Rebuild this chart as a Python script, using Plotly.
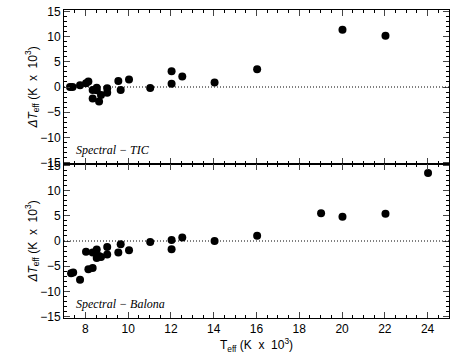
import plotly.graph_objects as go
from plotly.subplots import make_subplots

# Spectral - TIC  (Teff in K x 10^3, delta Teff in K x 10^3)
tic_teff = [7.28, 7.4, 7.75, 8.03, 8.14, 8.34, 8.34, 8.53, 8.53, 8.64, 8.73, 9.02, 9.02,
            9.54, 9.65, 10.04, 11.03, 12.03, 12.03, 12.53, 14.04, 16.03, 20.02, 22.03]
tic_dteff = [0.0, 0.0, 0.33, 0.73, 1.07, -0.6, -2.27, -0.13, -0.67, -2.9, -1.6, -0.27, -1.13,
             1.2, -0.6, 1.47, -0.2, 3.13, 0.67, 2.07, 0.87, 3.53, 11.4, 10.2]

# Spectral - Balona
bal_teff = [7.33, 7.43, 7.75, 8.03, 8.14, 8.34, 8.34, 8.53, 8.53, 8.64, 8.73, 9.02, 9.02,
            9.54, 9.65, 10.04, 11.03, 12.03, 12.03, 12.53, 14.04, 16.03, 19.02, 20.02, 22.03, 24.02]
bal_dteff = [-6.4, -6.27, -7.7, -2.16, -5.6, -5.36, -2.3, -1.7, -3.4, -3.0, -3.2, -1.18, -2.68,
             -2.3, -0.65, -1.83, -0.2, 0.2, -1.63, 0.72, 0.0, 1.05, 5.5, 4.84, 5.42, 13.5]

panels = [("Spectral − TIC", tic_teff, tic_dteff), ("Spectral − Balona", bal_teff, bal_dteff)]

fig = make_subplots(rows=2, cols=1, shared_xaxes=True, vertical_spacing=0)

font = dict(family="Liberation Sans, Arial, sans-serif", size=12, color="black")

for i, (label, xs, ys) in enumerate(panels, start=1):
    fig.add_trace(go.Scatter(x=xs, y=ys, mode="markers",
                             marker=dict(color="black", size=8), showlegend=False),
                  row=i, col=1)
    # dotted zero line
    fig.add_shape(type="line", xref="x domain" if i == 1 else "x2 domain",
                  yref="y" if i == 1 else "y2", x0=0, x1=1, y0=0, y1=0,
                  line=dict(color="black", width=1, dash="1px,2px"))
    fig.add_annotation(text="<i>" + label + "</i>", xref="x domain" if i == 1 else "x2 domain",
                       yref="y domain" if i == 1 else "y2 domain", x=0.025, y=0.03,
                       xanchor="left", yanchor="bottom", showarrow=False,
                       font=dict(family="Liberation Serif, serif", size=12, color="black"))
    fig.update_yaxes(range=[-15.3, 15.3], tickvals=[-15, -10, -5, 0, 5, 10, 15],
                     ticks="inside", ticklen=6, tickwidth=1, mirror="ticks",
                     minor=dict(dtick=1, ticks="inside", ticklen=3, tickcolor="black"),
                     showline=True, linecolor="black", linewidth=1, showgrid=False,
                     zeroline=False, tickfont=font, automargin=False,
                     title=dict(text="<i>ΔT</i><sub>eff</sub> (K  x  10<sup>3</sup>)",
                                font=font, standoff=0),
                     row=i, col=1)
    fig.update_xaxes(range=[7, 25], dtick=2, tick0=0, ticks="inside", ticklen=6, tickwidth=1,
                     mirror="ticks",
                     minor=dict(dtick=0.5, ticks="inside", ticklen=3, tickcolor="black"),
                     showline=True, linecolor="black", linewidth=1, showgrid=False,
                     zeroline=False, tickfont=font, automargin=False, row=i, col=1)

fig.update_xaxes(showticklabels=False, row=1, col=1)
fig.update_xaxes(title=dict(text="T<sub>eff</sub> (K  x  10<sup>3</sup>)", font=font, standoff=0),
                 row=2, col=1)

fig.update_layout(width=463, height=354, margin=dict(l=64, r=14, t=10, b=36),
                  plot_bgcolor="white", paper_bgcolor="white", font=font)

# drop the browser's default body margin so the figure sits at the page corner
fig.write_html("out.html", config={"displayModeBar": False},
               post_script="document.body.style.margin='0';")
